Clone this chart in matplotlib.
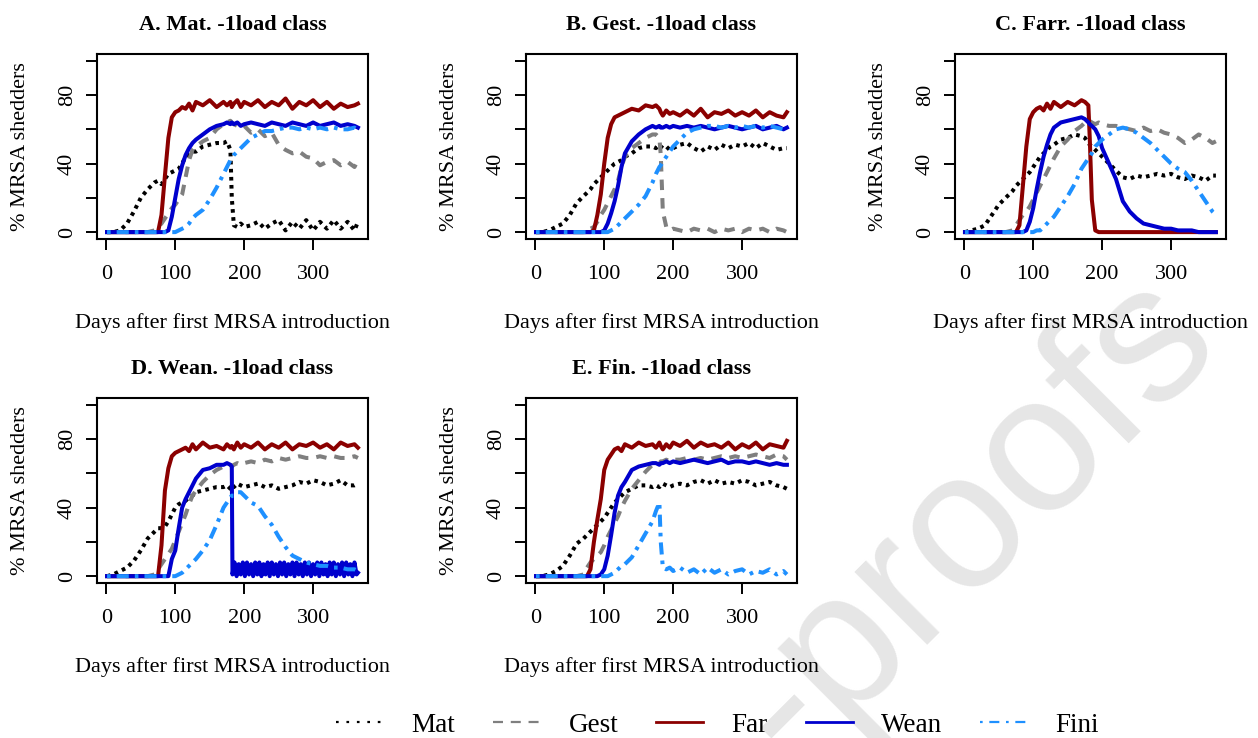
import matplotlib.pyplot as plt
from matplotlib.lines import Line2D

plt.rcParams['font.family'] = ['Liberation Serif', 'DejaVu Serif']

# sampling days (denser around the steep parts)
days = [1, 10, 20, 30, 40, 50, 60, 70,
        75, 80, 85, 90, 95, 100, 105, 110,
        115, 120, 125, 130, 140, 150, 160, 170,
        175, 180, 182, 185, 190, 195, 200, 210,
        220, 230, 240, 250, 260, 270, 280, 290,
        300, 310, 320, 330, 340, 350, 360, 365]

# A. Mat.
mat_A = [0, 0, 1, 5, 12, 20, 25, 29,
         30, 28, 31, 34, 35, 36, 37, 40,
         44, 45, 47, 47, 50, 51, 52, 52,
         53, 48, 20, 4, 3, 5, 3, 4,
         6, 2, 5, 7, 1, 6, 2, 7,
         1, 6, 2, 7, 2, 6, 1, 6]
gest_A = [0, 0, 0, 0, 0, 0, 0, 1,
          3, 5, 8, 11, 14, 16, 19, 22,
          32, 42, 48, 50, 53, 55, 60, 63,
          64, 65, 64, 63, 62, 63, 62, 58,
          60, 56, 58, 51, 48, 46, 47, 44,
          43, 39, 41, 42, 39, 41, 38, 42]
far_A = [0, 0, 0, 0, 0, 0, 0, 0,
         0, 10, 33, 55, 67, 70, 71, 73,
         72, 75, 71, 76, 74, 77, 73, 76,
         74, 76, 73, 75, 77, 73, 76, 74,
         77, 73, 76, 74, 78, 72, 76, 74,
         77, 73, 76, 72, 75, 73, 74, 75]
wean_A = [0, 0, 0, 0, 0, 0, 0, 0,
          0, 0, 0, 1, 9, 20, 31, 39,
          45, 49, 52, 54, 57, 60, 62, 63,
          64, 63, 64, 63, 64, 62, 63, 64,
          63, 62, 64, 63, 62, 64, 63, 62,
          64, 62, 63, 64, 62, 63, 62, 61]
fini_A = [0, 0, 0, 0, 0, 0, 0, 0,
          0, 0, 0, 0, 0, 0, 1, 2,
          3, 5, 8, 10, 13, 19, 26, 34,
          38, 42, 43, 45, 47, 49, 51, 55,
          57, 59, 59, 60, 61, 61, 60, 61,
          60, 61, 60, 61, 60, 60, 61, 59]

# B. Gest.
mat_B = [0, 0, 1, 3, 5, 10, 17, 21,
         23, 25, 28, 30, 32, 34, 36, 38,
         40, 41, 42, 44, 46, 49, 50, 50,
         49, 51, 50, 49, 50, 48, 49, 51,
         52, 49, 47, 50, 48, 51, 49, 51,
         50, 52, 49, 52, 50, 48, 49, 49]
gest_B = [0, 0, 0, 0, 0, 0, 0, 0,
          1, 2, 3, 6, 10, 13, 17, 21,
          25, 30, 38, 44, 49, 52, 55, 57,
          57, 55, 45, 12, 3, 1, 2, 1,
          0, 2, 1, 2, 0, 2, 1, 2,
          0, 2, 1, 2, 0, 2, 1, 0]
far_B = [0, 0, 0, 0, 0, 0, 0, 0,
         0, 0, 1, 10, 22, 40, 55, 63,
         67, 68, 69, 70, 72, 71, 74, 73,
         74, 72, 70, 68, 71, 69, 70, 68,
         71, 68, 72, 67, 70, 69, 71, 68,
         70, 68, 71, 67, 70, 68, 67, 70]
wean_B = [0, 0, 0, 0, 0, 0, 0, 0,
          0, 0, 0, 0, 0, 1, 5, 11,
          18, 27, 38, 46, 53, 57, 60, 62,
          61, 62, 61, 61, 62, 61, 62, 61,
          62, 61, 62, 61, 60, 61, 62, 61,
          60, 61, 62, 60, 61, 62, 60, 61]
fini_B = [0, 0, 0, 0, 0, 0, 0, 0,
          0, 0, 0, 0, 0, 0, 0, 1,
          2, 4, 6, 8, 12, 16, 21, 29,
          34, 38, 39, 41, 44, 47, 50, 54,
          58, 60, 61, 62, 62, 61, 62, 61,
          62, 61, 62, 61, 62, 61, 60, 62]

# C. Farr.
mat_C = [0, 1, 2, 4, 10, 16, 20, 24,
         27, 29, 31, 33, 35, 38, 41, 44,
         46, 48, 50, 51, 54, 55, 57, 56,
         55, 52, 51, 50, 48, 46, 44, 40,
         36, 32, 31, 33, 32, 33, 34, 33,
         34, 32, 31, 33, 32, 30, 33, 33]
gest_C = [0, 0, 0, 0, 0, 0, 0, 1,
          4, 7, 10, 12, 15, 19, 23, 27,
          31, 35, 39, 43, 50, 54, 59, 62,
          64, 64, 65, 64, 63, 64, 63, 62,
          62, 61, 60, 59, 61, 59, 60, 58,
          57, 55, 52, 54, 57, 55, 52, 53]
far_C = [0, 0, 0, 0, 0, 0, 0, 0,
         0, 4, 27, 50, 66, 70, 72, 73,
         71, 75, 72, 76, 73, 76, 74, 77,
         76, 74, 55, 19, 1, 0, 0, 0,
         0, 0, 0, 0, 0, 0, 0, 0,
         0, 0, 0, 0, 0, 0, 0, 0]
wean_C = [0, 0, 0, 0, 0, 0, 0, 0,
          0, 0, 0, 1, 6, 14, 25, 35,
          44, 51, 57, 61, 64, 65, 66, 67,
          66, 64, 63, 62, 60, 56, 49, 40,
          31, 18, 12, 8, 5, 4, 3, 2,
          2, 1, 1, 1, 0, 0, 0, 0]
fini_C = [0, 0, 0, 0, 0, 0, 0, 0,
          0, 0, 0, 0, 0, 0, 1, 1,
          3, 5, 7, 9, 15, 21, 28, 37,
          40, 43, 44, 46, 50, 52, 54, 57,
          60, 61, 60, 58, 55, 52, 48, 44,
          40, 37, 35, 30, 24, 18, 12, 10]

# D. Wean.
mat_D = [0, 1, 3, 5, 9, 15, 22, 26,
         28, 28, 29, 32, 36, 40, 42, 43,
         44, 46, 47, 49, 50, 51, 52, 52,
         53, 51, 53, 52, 54, 53, 52, 53,
         54, 52, 53, 51, 52, 53, 55, 54,
         56, 55, 53, 54, 56, 53, 53, 54]
gest_D = [0, 0, 0, 0, 0, 0, 0, 1,
          4, 7, 10, 13, 16, 21, 26, 31,
          36, 42, 47, 50, 55, 59, 62, 64,
          64, 65, 64, 65, 66, 65, 66, 67,
          66, 68, 67, 69, 68, 69, 70, 69,
          69, 70, 69, 70, 69, 69, 70, 69]
far_D = [0, 0, 0, 0, 0, 0, 0, 0,
         0, 18, 50, 63, 70, 72, 73, 74,
         75, 73, 77, 74, 78, 75, 76, 74,
         77, 75, 76, 74, 78, 75, 77, 75,
         78, 74, 77, 75, 78, 74, 77, 76,
         78, 75, 77, 74, 78, 76, 77, 75]
# weaners up to day 182, then the 0-8 sawtooth after the cull
wean_D = [0, 0, 0, 0, 0, 0, 0, 0,
          0, 0, 0, 0, 10, 15, 28, 40,
          45, 49, 53, 57, 62, 63, 65, 65,
          66, 65, 64]
wean_D_tail_days = [183, 186, 189, 192, 195, 198, 201, 204,
                    207, 210, 213, 216, 219, 222, 225, 228,
                    231, 234, 237, 240, 243, 246, 249, 252,
                    255, 258, 261, 264, 267, 270, 273, 276,
                    279, 282, 285, 288, 291, 294, 297, 300,
                    303, 306, 309, 312, 315, 318, 321, 324,
                    327, 330, 333, 336, 339, 342, 345, 348,
                    351, 354, 357, 360, 363, 365]
wean_D_tail = [1, 8, 0, 7, 1, 8, 0, 8,
               1, 7, 0, 8, 1, 8, 0, 7,
               1, 8, 0, 8, 1, 7, 0, 8,
               1, 8, 0, 7, 1, 8, 0, 8,
               1, 7, 0, 8, 1, 8, 0, 7,
               1, 8, 0, 8, 1, 7, 0, 8,
               1, 8, 0, 7, 1, 8, 0, 8,
               1, 7, 0, 8, 1, 2]
fini_D = [0, 0, 0, 0, 0, 0, 0, 0,
          0, 0, 0, 0, 0, 0, 1, 2,
          4, 6, 8, 10, 15, 21, 30, 40,
          43, 46, 47, 47, 49, 49, 47, 43,
          41, 35, 30, 23, 17, 12, 10, 8,
          7, 6, 6, 5, 5, 4, 4, 3]

# E. Fin.
mat_E = [0, 0, 1, 3, 6, 12, 19, 22,
         24, 26, 28, 30, 32, 34, 37, 40,
         43, 45, 47, 49, 51, 53, 53, 52,
         53, 52, 53, 54, 53, 52, 53, 54,
         53, 55, 56, 54, 56, 54, 55, 54,
         56, 55, 53, 54, 55, 53, 52, 51]
gest_E = [0, 0, 0, 0, 0, 0, 0, 1,
          5, 8, 10, 12, 14, 18, 23, 27,
          31, 35, 40, 44, 51, 56, 61, 65,
          66, 66, 67, 67, 68, 67, 68, 68,
          69, 68, 69, 68, 69, 70, 69, 70,
          69, 70, 71, 70, 69, 71, 70, 68]
far_E = [0, 0, 0, 0, 0, 0, 0, 0,
         0, 4, 20, 33, 45, 62, 68, 71,
         74, 75, 73, 77, 75, 78, 76, 77,
         75, 78, 76, 74, 77, 75, 78, 76,
         79, 75, 78, 76, 77, 75, 78, 74,
         77, 75, 78, 74, 77, 76, 75, 79]
wean_E = [0, 0, 0, 0, 0, 0, 0, 0,
          0, 0, 0, 0, 1, 4, 12, 24,
          37, 47, 52, 55, 62, 64, 65, 66,
          66, 65, 66, 66, 67, 66, 67, 66,
          67, 68, 67, 66, 67, 68, 66, 67,
          67, 66, 67, 66, 65, 66, 65, 65]
fini_E = [0, 0, 0, 0, 0, 0, 0, 0,
          0, 0, 0, 0, 0, 0, 0, 1,
          2, 4, 6, 7, 11, 18, 25, 32,
          38, 43, 20, 5, 4, 5, 3, 5,
          2, 4, 1, 5, 2, 4, 1, 3,
          4, 1, 3, 2, 4, 1, 3, 1]

names = ['Mat', 'Gest', 'Far', 'Wean', 'Fini']
titles = ['A. Mat. -1load class', 'B. Gest. -1load class', 'C. Farr. -1load class',
          'D. Wean. -1load class', 'E. Fin. -1load class']

colors = ['black', '#7f7f7f', '#8b0000', '#0000cd', '#1e90ff']
styles = [(0, (0.9, 1.1)), (0, (2.6, 2.0)), '-', '-', (0, (0.9, 1.5, 3.0, 1.5))]

wean_D_x = days[:len(wean_D)] + wean_D_tail_days
wean_D_y = wean_D + wean_D_tail

panels = [
    [(days, mat_A), (days, gest_A), (days, far_A), (days, wean_A), (days, fini_A)],
    [(days, mat_B), (days, gest_B), (days, far_B), (days, wean_B), (days, fini_B)],
    [(days, mat_C), (days, gest_C), (days, far_C), (days, wean_C), (days, fini_C)],
    [(days, mat_D), (days, gest_D), (days, far_D), (wean_D_x, wean_D_y), (days, fini_D)],
    [(days, mat_E), (days, gest_E), (days, far_E), (days, wean_E), (days, fini_E)],
]

lefts = [0.0771, 0.4181, 0.7591, 0.0771, 0.4181]
bottoms = [0.6762, 0.6762, 0.6762, 0.2100, 0.2100]

fig = plt.figure(figsize=(12.58, 7.38), dpi=100)

# "Journal Pre-proofs" watermark, only its tail is inside the crop
fig.text(0.773, 0.295, '-proofs', rotation=45, fontsize=140, color='#e6e6e6',
         family='Liberation Sans', ha='center', va='center',
         rotation_mode='anchor', zorder=-1)

for i in range(5):
    ax = fig.add_axes([lefts[i], bottoms[i], 0.2154, 0.2507])
    ax.set_facecolor('none')
    for (xs, ys), c, ls in zip(panels[i], colors, styles):
        ax.plot(xs, ys, color=c, ls=ls, lw=2.9)
    ax.set_xlim(-13.56, 379.56)
    ax.set_ylim(-4, 104)
    ax.set_xticks([0, 100, 200, 300])
    ax.set_yticks([0, 20, 40, 60, 80, 100])
    ax.set_yticklabels(['0', '', '40', '', '80', ''], rotation=90, va='center')
    ax.tick_params(direction='out', length=8, width=1.4, labelsize=16)
    ax.tick_params(axis='x', pad=10.5)
    ax.tick_params(axis='y', pad=6.5)
    for s in ax.spines.values():
        s.set_linewidth(1.5)
    ax.set_title(titles[i], fontsize=16, fontweight='bold', pad=17)
    ax.set_xlabel('Days after first MRSA introduction', fontsize=16, labelpad=21)
    ax.set_ylabel('% MRSA shedders', fontsize=16, labelpad=20)

handles = [
    Line2D([], [], color=colors[0], lw=1.6, ls=(0, (1.2, 3.5))),
    Line2D([], [], color=colors[1], lw=1.6, ls=(0, (4.5, 3.5))),
    Line2D([], [], color=colors[2], lw=2.0),
    Line2D([], [], color=colors[3], lw=2.0),
    Line2D([], [], color=colors[4], lw=1.6, ls=(0, (1.2, 3, 4.5, 3))),
]
fig.legend(handles, names, loc='center', bbox_to_anchor=(0.5704, 0.0176), ncol=5,
           frameon=False, fontsize=19.5, handlelength=1.74, handletextpad=1.04,
           columnspacing=1.4, borderpad=0, borderaxespad=0)

fig.savefig('out.png', dpi=100)
